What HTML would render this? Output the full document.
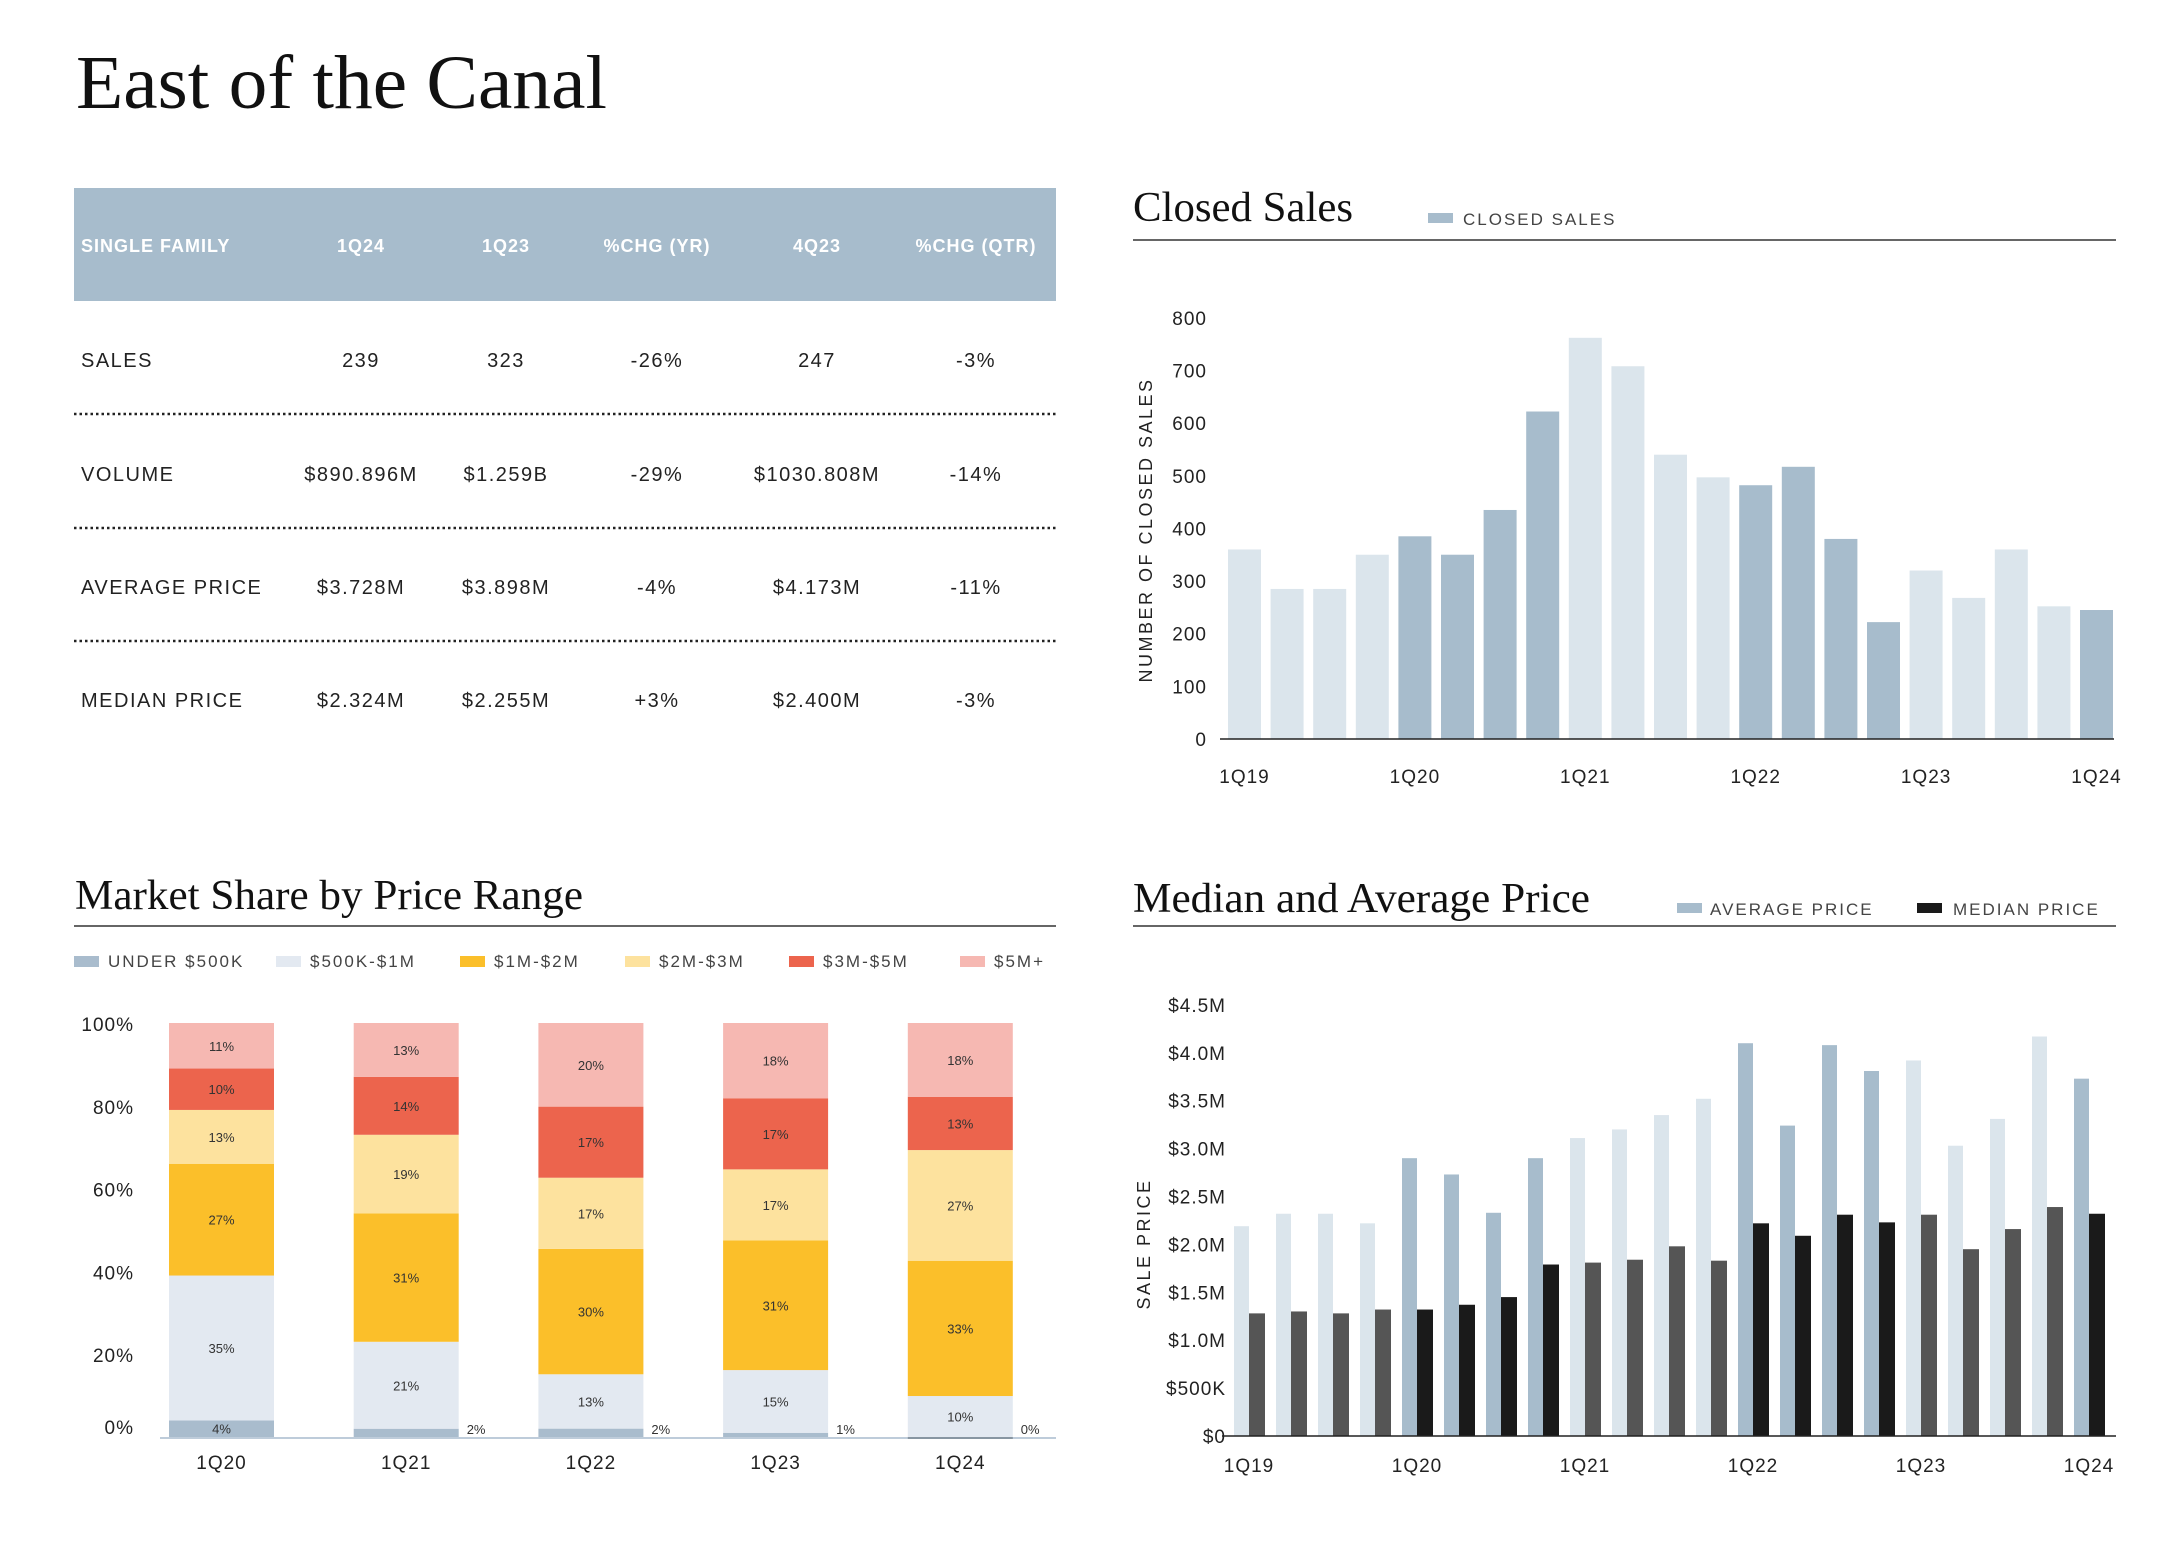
<!DOCTYPE html>
<html><head><meta charset="utf-8"><style>
html,body{margin:0;padding:0;background:#fff;}
svg{display:block;font-family:"Liberation Sans",sans-serif;}
.serif{font-family:"Liberation Serif",serif;fill:#111;}
.t{fill:#222;font-size:20px;letter-spacing:1.5px;}
.ax{fill:#222;font-size:19px;letter-spacing:1px;}
.lg{fill:#444;font-size:17px;letter-spacing:2px;}
</style></head><body>
<svg id="page" width="2176" height="1548" viewBox="0 0 2176 1548" xmlns="http://www.w3.org/2000/svg">
<text class="serif" x="76" y="108" font-size="76" textLength="531" lengthAdjust="spacingAndGlyphs">East of the Canal</text>

<g>
<rect x="74" y="188" width="982" height="113" fill="#a7bccc"/>
<g fill="#fff" font-size="18" font-weight="bold" letter-spacing="1">
<text x="81" y="252">SINGLE FAMILY</text>
<text x="361" y="252" text-anchor="middle">1Q24</text>
<text x="506" y="252" text-anchor="middle">1Q23</text>
<text x="657" y="252" text-anchor="middle">%CHG (YR)</text>
<text x="817" y="252" text-anchor="middle">4Q23</text>
<text x="976" y="252" text-anchor="middle">%CHG (QTR)</text>
</g>
<g id="rows"></g>
</g>

<g>
<text class="serif" x="1133" y="221" font-size="42" textLength="220" lengthAdjust="spacingAndGlyphs">Closed Sales</text>
<rect x="1428" y="213" width="25" height="10" fill="#a7bccc"/>
<text class="lg" x="1463" y="225">CLOSED SALES</text>
<line x1="1133" y1="240" x2="2116" y2="240" stroke="#333" stroke-width="1.5"/>
<text x="1152" y="530" transform="rotate(-90 1152 530)" text-anchor="middle" font-size="18" letter-spacing="2.5" fill="#222">NUMBER OF CLOSED SALES</text>
<g id="cs"></g>
</g>

<g>
<text class="serif" x="75" y="909" font-size="42" textLength="508" lengthAdjust="spacingAndGlyphs">Market Share by Price Range</text>
<line x1="74" y1="926" x2="1056" y2="926" stroke="#333" stroke-width="1.5"/>
<g id="ms"></g>
</g>

<g>
<text class="serif" x="1133" y="912" font-size="42" textLength="457" lengthAdjust="spacingAndGlyphs">Median and Average Price</text>
<rect x="1677" y="903" width="25" height="10" fill="#a7bccc"/>
<text class="lg" x="1710" y="915">AVERAGE PRICE</text>
<rect x="1917" y="903" width="25" height="10" fill="#1a1a1a"/>
<text class="lg" x="1953" y="915">MEDIAN PRICE</text>
<line x1="1133" y1="926" x2="2116" y2="926" stroke="#333" stroke-width="1.5"/>
<text x="1150" y="1244" transform="rotate(-90 1150 1244)" text-anchor="middle" font-size="18" letter-spacing="2.5" fill="#222">SALE PRICE</text>
<g id="mp"></g>
</g>
</svg>
<script>
const NS="http://www.w3.org/2000/svg";
function mk(p,tag,a,txt){const e=document.createElementNS(NS,tag);for(const k in a)e.setAttribute(k,a[k]);if(txt!==undefined)e.textContent=txt;p.appendChild(e);return e;}

// ---- table data
const rowLabels=["SALES","VOLUME","AVERAGE PRICE","MEDIAN PRICE"];
const col1Q24=["239","$890.896M","$3.728M","$2.324M"];
const col1Q23=["323","$1.259B","$3.898M","$2.255M"];
const colChgYr=["-26%","-29%","-4%","+3%"];
const col4Q23=["247","$1030.808M","$4.173M","$2.400M"];
const colChgQtr=["-3%","-14%","-11%","-3%"];
// ---- closed sales
const quarters=["1Q19","2Q19","3Q19","4Q19","1Q20","2Q20","3Q20","4Q20","1Q21","2Q21","3Q21","4Q21","1Q22","2Q22","3Q22","4Q22","1Q23","2Q23","3Q23","4Q23","1Q24"];
const closedSales=[360,285,285,350,385,350,435,622,762,708,540,497,482,517,380,222,320,268,360,252,245];
const csTicks=[0,100,200,300,400,500,600,700,800];
// ---- price
const avgPrice=[2.19,2.32,2.32,2.22,2.90,2.73,2.33,2.90,3.11,3.20,3.35,3.52,4.10,3.24,4.08,3.81,3.92,3.03,3.31,4.17,3.73];
const medPrice=[1.28,1.30,1.28,1.32,1.32,1.37,1.45,1.79,1.81,1.84,1.98,1.83,2.22,2.09,2.31,2.23,2.31,1.95,2.16,2.39,2.32];
const priceTicks=[0,0.5,1,1.5,2,2.5,3,3.5,4,4.5];
const priceTickLabels=["$0","$500K","$1.0M","$1.5M","$2.0M","$2.5M","$3.0M","$3.5M","$4.0M","$4.5M"];
// ---- market share
const msYears=["1Q20","1Q21","1Q22","1Q23","1Q24"];
const msRanges=["UNDER $500K","$500K-$1M","$1M-$2M","$2M-$3M","$3M-$5M","$5M+"];
const shUnder500=[4,2,2,1,0];
const sh500to1=[35,21,13,15,10];
const sh1to2=[27,31,30,31,33];
const sh2to3=[13,19,17,17,27];
const sh3to5=[10,14,17,17,13];
const sh5plus=[11,13,20,18,18];
const msTicks=[0,20,40,60,80,100];

// table
const rows=document.getElementById('rows');
const rowY=[367,481,594,707];const cx=[361,506,657,817,976];
rowLabels.forEach((l,i)=>{
 let t=mk(rows,'text',{x:81,y:rowY[i],class:'t'},l);
 
 [col1Q24,col1Q23,colChgYr,col4Q23,colChgQtr].forEach((c,j)=>{
  let v=mk(rows,'text',{x:cx[j],y:rowY[i],class:'t','text-anchor':'middle'},c[i]);
  
 });
 if(i<3){let d=mk(rows,'line',{x1:74,x2:1056,y1:rowY[i]+47,y2:rowY[i]+47,stroke:'#222','stroke-width':2.5,'stroke-dasharray':'2.5 3'});
 }
});

const light="#dbe5ec",dark="#a7bccc";
const isDark=i=>Math.floor(i/4)%2===1;

// closed sales
(function(){
 const g=document.getElementById('cs');const y0=739,pp=52.65/100,x0=1228,step=42.6,w=33;
 const y=v=>y0-v*pp;
 csTicks.forEach(t=>{let e=mk(g,'text',{x:1207,y:y(t)+7,'text-anchor':'end',class:'ax'},t);});
 closedSales.forEach((v,i)=>{let r=mk(g,'rect',{x:x0+i*step,y:y(v),width:w,height:v*pp,fill:isDark(i)?dark:light});});
 let a=mk(g,'line',{x1:1220,x2:2114,y1:y0,y2:y0,stroke:'#222','stroke-width':1.5});
 quarters.forEach((q,i)=>{if(q[0]!=='1')return;let e=mk(g,'text',{x:x0+i*step+w/2,y:783,'text-anchor':'middle',class:'ax','font-size':21},q);});
})();

// price
(function(){
 const g=document.getElementById('mp');const y0=1436,pm=95.8,x0=1234,step=42,wa=15,wm=16;
 const y=v=>y0-v*pm;
 priceTicks.forEach((t,i)=>{let e=mk(g,'text',{x:1226,y:y(t)+7,'text-anchor':'end',class:'ax'},priceTickLabels[i]);});
 quarters.forEach((q,i)=>{
  let a=mk(g,'rect',{x:x0+i*step,y:y(avgPrice[i]),width:wa,height:avgPrice[i]*pm,fill:isDark(i)?dark:light});
  let m=mk(g,'rect',{x:x0+i*step+wa,y:y(medPrice[i]),width:wm,height:medPrice[i]*pm,fill:isDark(i)?'#1a1a1a':'#555'});
 });
 let a=mk(g,'line',{x1:1222,x2:2116,y1:y0,y2:y0,stroke:'#222','stroke-width':1.5});
 quarters.forEach((q,i)=>{if(q[0]!=='1')return;let e=mk(g,'text',{x:x0+i*step+wa,y:1472,'text-anchor':'middle',class:'ax','font-size':21},q);});
})();

// market share
(function(){
 const g=document.getElementById('ms');
 const colors=["#a9bccd","#e3e9f1","#fbbf2a","#fde29e","#ec644d","#f6b8b2"];
 const series=[shUnder500,sh500to1,sh1to2,sh2to3,sh3to5,sh5plus];
 const lx=[74,276,460,625,789,960];
 msRanges.forEach((r,i)=>{
  let s=mk(g,'rect',{x:lx[i],y:956,width:25,height:11,fill:colors[i]});
  let t=mk(g,'text',{x:lx[i]+34,y:967,class:'lg','font-size':16},r);
 });
 const y0=1437,H=414,x0=169,step=184.7,w=105;
 const y=p=>y0-p/100*H;
 msTicks.forEach(t=>{let e=mk(g,'text',{x:134,y:y(t)+(t===0?-3:8),'text-anchor':'end',class:'ax','font-size':21},t+'%');});
 msYears.forEach((yr,j)=>{
  const tot=series.reduce((s,a)=>s+a[j],0);let acc=0;
  series.forEach((a,k)=>{
   const v=a[j]/tot*100;const top=y(acc+v),bot=y(acc);
   let r=mk(g,'rect',{x:x0+j*step,y:top,width:w,height:Math.max(bot-top,v===0?2:0),fill:v===0?'#222':colors[k]});
   
   let lbl;
   if(a[j]<=2&&k===0) lbl=mk(g,'text',{x:x0+j*step+w+8,y:y0-3,'font-size':13,fill:'#333'},a[j]+'%');
   else lbl=mk(g,'text',{x:x0+j*step+w/2,y:(top+bot)/2+5,'text-anchor':'middle','font-size':13,fill:'#333'},a[j]+'%');
   
   acc+=v;
  });
  let e=mk(g,'text',{x:x0+j*step+w/2,y:1469,'text-anchor':'middle',class:'ax','font-size':21},yr);
 });
 let a=mk(g,'line',{x1:160,x2:1056,y1:y0+1,y2:y0+1,stroke:'#a9bccd','stroke-width':1.5});
})();
</script>
</body></html>
